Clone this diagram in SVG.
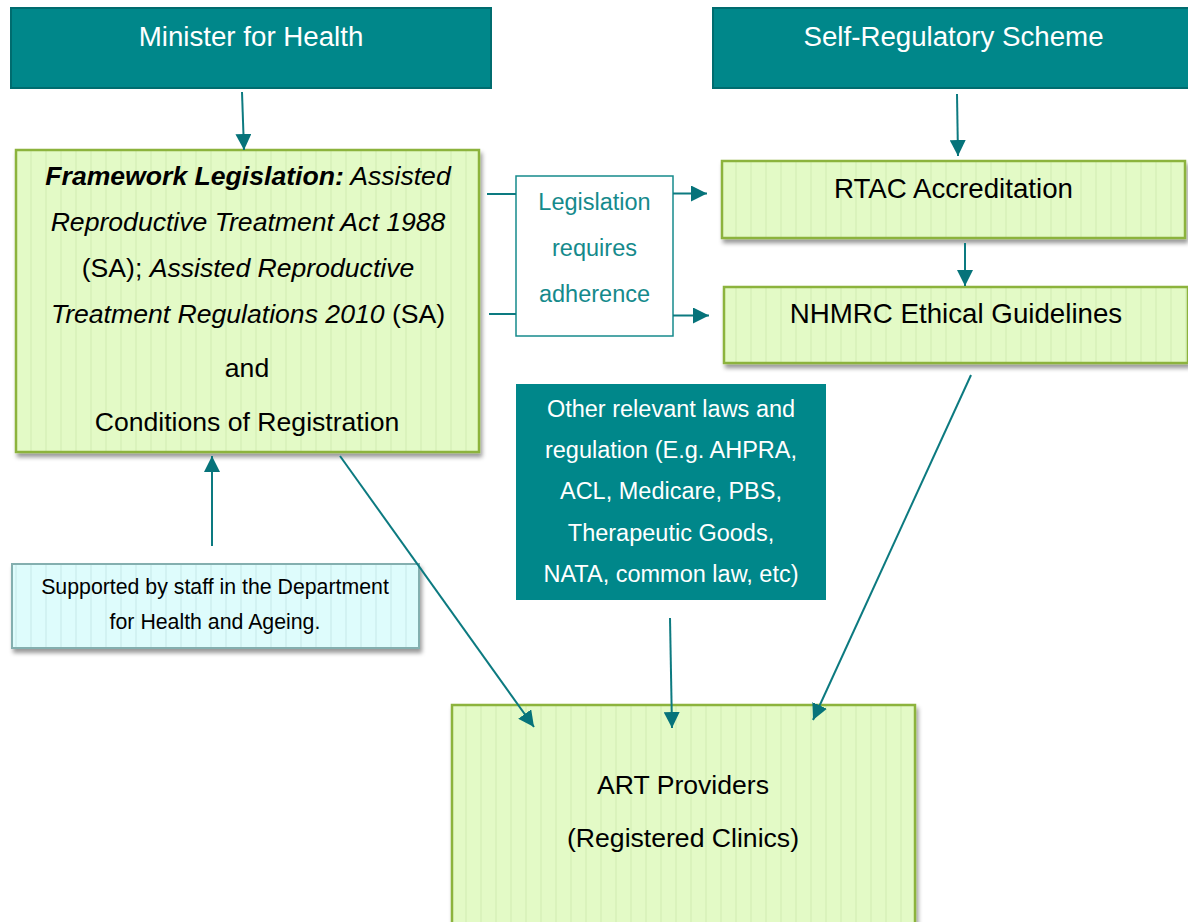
<svg xmlns="http://www.w3.org/2000/svg" width="1188" height="922" viewBox="0 0 1188 922">
<defs>
<style>
.hdr{fill:#00878A;stroke:#006C6F;stroke-width:2}
.grn{fill:url(#gstripe);stroke:#8CB33D;stroke-width:2.5;filter:url(#sh)}
.cyan{fill:url(#cstripe);stroke:#84AFAF;stroke-width:2;filter:url(#sh)}
.t{font-family:"Liberation Sans",Arial,sans-serif;text-anchor:middle}
.w{fill:#FFFFFF}
.k{fill:#000000}
.tl{fill:#158A8C}
.con{stroke:#0C7A80;stroke-width:2;fill:none}
.arr{marker-end:url(#ah)}
</style>
<pattern id="gstripe" patternUnits="userSpaceOnUse" width="15" height="20">
<rect width="15" height="20" fill="#E3FAC6"/>
<rect x="0" width="2" height="20" fill="#DAF3BC"/>
</pattern>
<pattern id="cstripe" patternUnits="userSpaceOnUse" width="15" height="20">
<rect width="15" height="20" fill="#DEFCFC"/>
<rect x="0" width="2" height="20" fill="#D2F2F2"/>
</pattern>
<filter id="sh" x="-5%" y="-10%" width="115%" height="130%">
<feDropShadow dx="2" dy="4" stdDeviation="2" flood-color="#000" flood-opacity="0.4"/>
</filter>
<marker id="ah" markerUnits="userSpaceOnUse" markerWidth="16" markerHeight="16" refX="16" refY="8" orient="auto">
<path d="M0,0 L16,8 L0,16 z" fill="#06737A"/>
</marker>
</defs>
<rect width="1188" height="922" fill="#FFFFFF"/>

<g id="minister">
<rect class="hdr" x="11" y="8" width="480" height="80"/>
<text class="t w" x="251" y="46" font-size="27.7">Minister for Health</text>
</g>

<g id="self-regulatory">
<rect class="hdr" x="713" y="8" width="480" height="80"/>
<text class="t w" x="953.5" y="46" font-size="27.7">Self-Regulatory Scheme</text>
</g>

<g id="framework">
<rect class="grn" x="16" y="150" width="463" height="302"/>
<text class="t k" x="248" y="185" font-size="26.6"><tspan font-weight="bold" font-style="italic">Framework Legislation:</tspan><tspan font-style="italic"> Assisted</tspan></text>
<text class="t k" x="248" y="231" font-size="26.6" font-style="italic">Reproductive Treatment Act 1988</text>
<text class="t k" x="248" y="277" font-size="26.6">(SA); <tspan font-style="italic">Assisted Reproductive</tspan></text>
<text class="t k" x="248" y="323" font-size="26.6"><tspan font-style="italic">Treatment Regulations 2010</tspan> (SA)</text>
<text class="t k" x="247" y="377" font-size="26.6">and</text>
<text class="t k" x="247" y="431" font-size="26.6">Conditions of Registration</text>
</g>

<g id="legislation-requires">
<rect x="516" y="176" width="157" height="160" fill="#FFFFFF" stroke="#168A8C" stroke-width="1.5"/>
<text class="t tl" x="594.5" y="210" font-size="23.5">Legislation</text>
<text class="t tl" x="594.5" y="256" font-size="23.5">requires</text>
<text class="t tl" x="594.5" y="302" font-size="23.5">adherence</text>
</g>

<g id="rtac">
<rect class="grn" x="722" y="161" width="463" height="77"/>
<text class="t k" x="953.5" y="198" font-size="27.7">RTAC Accreditation</text>
</g>

<g id="nhmrc">
<rect class="grn" x="724" y="287" width="464" height="76"/>
<text class="t k" x="956" y="323" font-size="27.7">NHMRC Ethical Guidelines</text>
</g>

<g id="other-laws">
<rect x="516" y="384" width="310" height="216" fill="#00878A"/>
<text class="t w" x="671" y="417" font-size="23.5">Other relevant laws and</text>
<text class="t w" x="671" y="458" font-size="23.5">regulation (E.g. AHPRA,</text>
<text class="t w" x="671" y="499" font-size="23.5">ACL, Medicare, PBS,</text>
<text class="t w" x="671" y="541" font-size="23.5">Therapeutic Goods,</text>
<text class="t w" x="671" y="582" font-size="23.5">NATA, common law, etc)</text>
</g>

<g id="supported">
<rect class="cyan" x="12" y="564" width="407" height="84"/>
<text class="t k" x="215" y="594" font-size="21.3">Supported by staff in the Department</text>
<text class="t k" x="215" y="629" font-size="21.3">for Health and Ageing.</text>
</g>

<g id="art-providers">
<rect class="grn" x="452" y="705" width="463" height="230"/>
<text class="t k" x="683" y="794" font-size="26.6">ART Providers</text>
<text class="t k" x="683" y="847" font-size="26.6">(Registered Clinics)</text>
</g>

<g id="connectors">
<line class="con arr" x1="242" y1="92" x2="244" y2="150"/>
<line class="con arr" x1="957" y1="94" x2="958" y2="156"/>
<line class="con arr" x1="965" y1="243" x2="965" y2="286"/>
<line class="con" x1="487" y1="194" x2="516" y2="194"/>
<line class="con arr" x1="673" y1="193.5" x2="707" y2="193.5"/>
<line class="con" x1="489" y1="314" x2="516" y2="314"/>
<line class="con arr" x1="673" y1="315.5" x2="709" y2="315.5"/>
<line class="con arr" x1="212" y1="546" x2="212" y2="456"/>
<line class="con arr" x1="340" y1="456" x2="534" y2="727"/>
<line class="con arr" x1="670" y1="618" x2="672" y2="728"/>
<line class="con arr" x1="971" y1="375" x2="813" y2="720"/>
</g>
</svg>
